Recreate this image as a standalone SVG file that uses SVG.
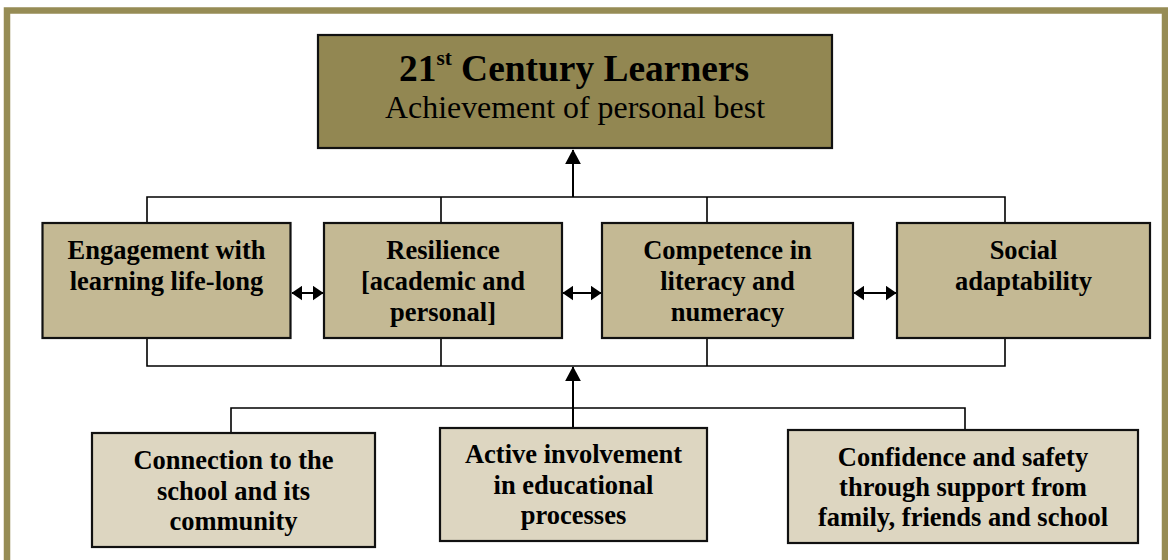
<svg xmlns="http://www.w3.org/2000/svg" width="1168" height="560" viewBox="0 0 1168 560">
<defs>
<style>
.frame{fill:none;stroke:#968c55;stroke-width:6.5}
.top{fill:#928752;stroke:#111;stroke-width:2.2}
.mid{fill:#c4b994;stroke:#111;stroke-width:2.2}
.bot{fill:#ddd6c1;stroke:#111;stroke-width:2.2}
.ln{fill:none;stroke:#000;stroke-width:1.6}
.ar{fill:none;stroke:#000;stroke-width:2}
.t{font-family:"Liberation Serif","Times New Roman",serif;text-anchor:middle;fill:#000}
.b{font-weight:bold;font-size:26.5px}
</style>
<marker id="ahL" viewBox="0 0 10 10" refX="9.5" refY="5" markerWidth="15" markerHeight="16" markerUnits="userSpaceOnUse" orient="auto" preserveAspectRatio="none">
<path d="M0,0 L10,5 L0,10 Z" fill="#000"/>
</marker>
<marker id="ahS" viewBox="0 0 10 10" refX="9.5" refY="5" markerWidth="11" markerHeight="15" markerUnits="userSpaceOnUse" orient="auto-start-reverse" preserveAspectRatio="none">
<path d="M0,0 L10,5 L0,10 Z" fill="#000"/>
</marker>
</defs>
<rect width="1168" height="560" fill="#fff"/>
<rect class="frame" x="7" y="10.5" width="1158" height="570"/>

<g id="connectors">
<path class="ln" d="M147,222 V197 H1005 V222 M441,197 V222 M707,197 V222"/>
<path class="ar" d="M573,197 V150" marker-end="url(#ahL)"/>
<path class="ln" d="M147,338 V366 H1005 V338 M441,338 V366 M707,338 V366"/>
<path class="ln" d="M231,433 V408 H965 V430"/>
<path class="ar" d="M573,428 V367" marker-end="url(#ahL)"/>
<path class="ar" d="M292,293 H323" marker-start="url(#ahS)" marker-end="url(#ahS)"/>
<path class="ar" d="M563,293 H601" marker-start="url(#ahS)" marker-end="url(#ahS)"/>
<path class="ar" d="M854,293 H896" marker-start="url(#ahS)" marker-end="url(#ahS)"/>
</g>

<g id="n-top">
<rect class="top" x="318" y="35" width="514" height="113"/>
<text class="t" x="574" y="81" font-weight="bold" font-size="37" textLength="350" lengthAdjust="spacingAndGlyphs">21<tspan font-size="21" dy="-16">st</tspan><tspan dy="16"> Century Learners</tspan></text>
<text class="t" x="575" y="118" font-size="31.5" textLength="380" lengthAdjust="spacingAndGlyphs">Achievement of personal best</text>
</g>

<g id="n-engagement">
<rect class="mid" x="42.5" y="223" width="248" height="115"/>
<text class="t b" x="166.5" y="259">Engagement with</text>
<text class="t b" x="166.5" y="290">learning life-long</text>
</g>

<g id="n-resilience">
<rect class="mid" x="324" y="223" width="238" height="115"/>
<text class="t b" x="443" y="259">Resilience</text>
<text class="t b" x="443" y="290">[academic and</text>
<text class="t b" x="443" y="321">personal]</text>
</g>

<g id="n-competence">
<rect class="mid" x="602" y="223" width="251" height="115"/>
<text class="t b" x="727.5" y="259">Competence in</text>
<text class="t b" x="727.5" y="290">literacy and</text>
<text class="t b" x="727.5" y="321">numeracy</text>
</g>

<g id="n-social">
<rect class="mid" x="897" y="223" width="253" height="115"/>
<text class="t b" x="1023.5" y="259">Social</text>
<text class="t b" x="1023.5" y="290">adaptability</text>
</g>

<g id="n-connection">
<rect class="bot" x="92" y="433" width="283" height="114"/>
<text class="t b" x="233.5" y="469">Connection to the</text>
<text class="t b" x="233.5" y="500">school and its</text>
<text class="t b" x="233.5" y="530">community</text>
</g>

<g id="n-active">
<rect class="bot" x="440" y="428" width="267" height="113"/>
<text class="t b" x="573.5" y="463">Active involvement</text>
<text class="t b" x="573.5" y="494">in educational</text>
<text class="t b" x="573.5" y="524">processes</text>
</g>

<g id="n-confidence">
<rect class="bot" x="788" y="430" width="350" height="113"/>
<text class="t b" x="963" y="466">Confidence and safety</text>
<text class="t b" x="963" y="496">through support from</text>
<text class="t b" x="963" y="526">family, friends and school</text>
</g>
</svg>
